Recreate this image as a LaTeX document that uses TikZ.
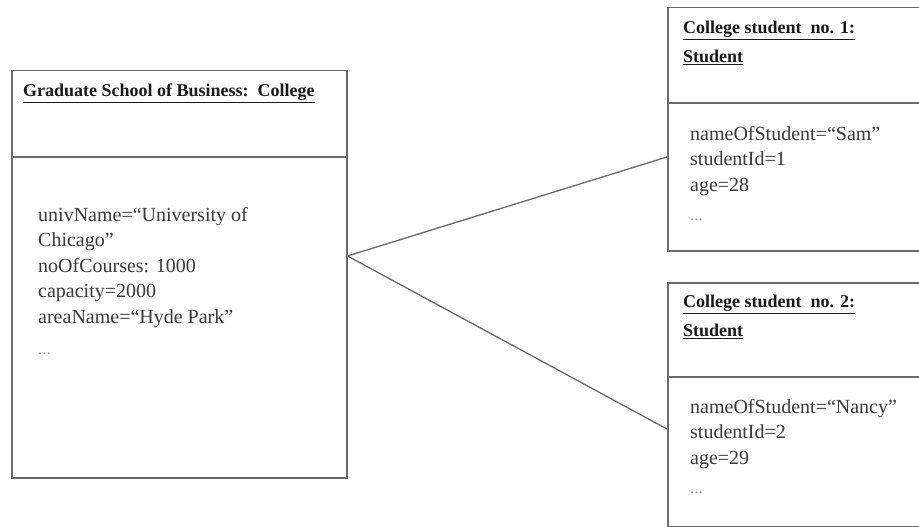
\documentclass[tikz,border=0pt]{standalone}
\usepackage{fontspec}
\setmainfont{Liberation Serif}
\definecolor{boxgray}{HTML}{6A6A6A}
\definecolor{txtgray}{HTML}{3A3A3A}
\definecolor{dotgray}{HTML}{999999}
\newcommand{\mydots}{{\color{dotgray}\fontsize{17}{17}\selectfont ...}}
\begin{document}
\begin{tikzpicture}[x=1pt,y=-1pt,
  umlbox/.style={draw=boxgray, line width=1.5pt, rectangle, inner sep=0pt, anchor=north west},
  divider/.style={draw=boxgray, line width=1.5pt},
  link/.style={draw=boxgray, line width=1.3pt},
  titletxt/.style={anchor=north west, inner sep=0pt, align=left, text=black!90,
    font=\fontsize{18}{29}\selectfont\bfseries},
  bodytxt/.style={anchor=north west, inner sep=0pt, align=left, text=txtgray,
    font=\fontsize{20}{25.5}\selectfont}]
\useasboundingbox (0,0) rectangle (919,527);
\clip (0,0) rectangle (919,527);
\fill[white] (0,0) rectangle (919,527);

% College object
\node[umlbox, minimum width=335pt, minimum height=407pt] (college) at (11,70) {};
\draw[divider] (11,157) -- (346,157);
\node[titletxt] (collegetitle) at (23,84) {\underline{Graduate School of Business:\ \ College}};
\node[bodytxt] (collegebody) at (38,207) {univName=“University of\\Chicago”\\noOfCourses: 1000\\capacity=2000\\areaName=“Hyde Park”\\[6pt]\mydots};

% Student 1
\node[umlbox, minimum width=270pt, minimum height=243pt] (stud1) at (667,7) {};
\draw[divider] (667,103) -- (930,103);
\node[titletxt] (stud1title) at (683,21) {\underline{College student\ \ no. 1:}\\\underline{Student}};
\node[bodytxt] (stud1body) at (690,126) {nameOfStudent=“Sam”\\studentId=1\\age=28\\[4pt]\mydots};

% Student 2
\node[umlbox, minimum width=270pt, minimum height=244pt] (stud2) at (667,282) {};
\draw[divider] (667,377) -- (930,377);
\node[titletxt] (stud2title) at (683,295) {\underline{College student\ \ no. 2:}\\\underline{Student}};
\node[bodytxt] (stud2body) at (690,399) {nameOfStudent=“Nancy”\\studentId=2\\age=29\\[4pt]\mydots};

% Links
\coordinate (cpt) at (college.east |- 0,256);
\coordinate (s1pt) at (stud1.west |- 0,157);
\coordinate (s2pt) at (stud2.west |- 0,429);
\draw[link] (cpt) -- (s1pt);
\draw[link] (cpt) -- (s2pt);
\end{tikzpicture}
\end{document}
